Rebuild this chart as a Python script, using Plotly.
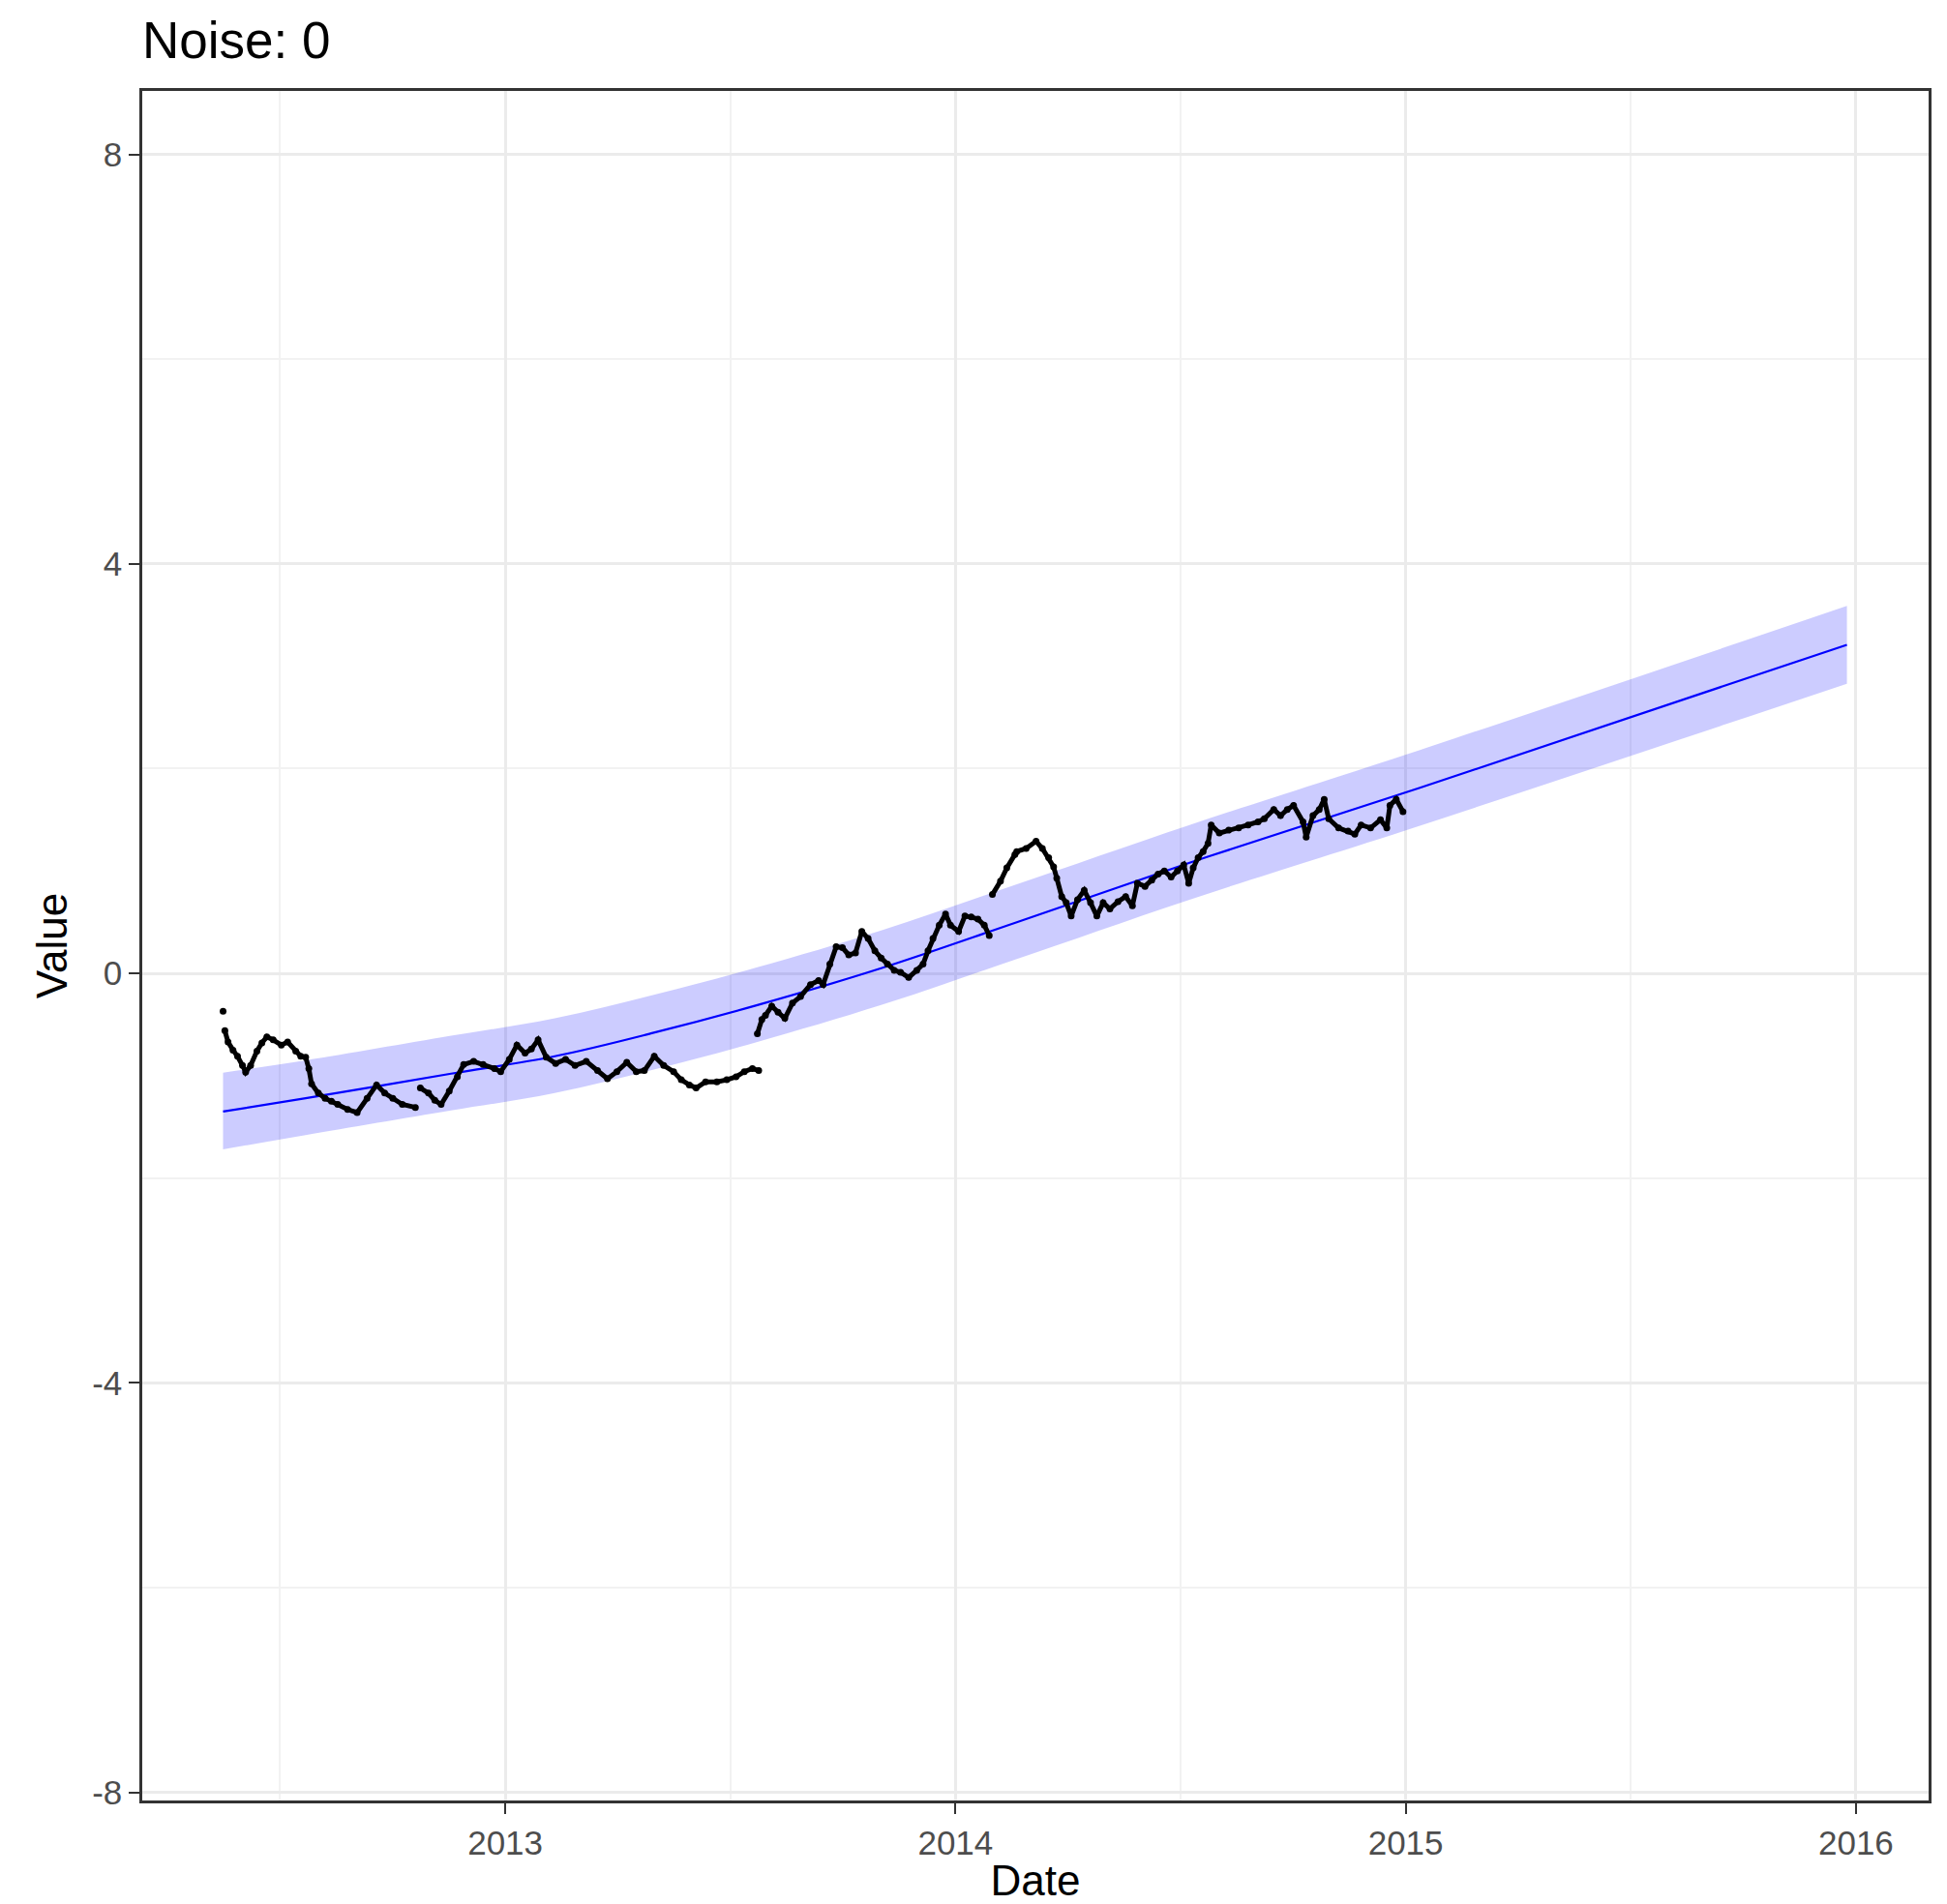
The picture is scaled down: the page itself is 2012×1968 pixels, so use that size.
import pandas as pd
import plotly.graph_objects as go

# ---------------- data (decimal years) ----------------
obs1_t = [2012.375, None,
          2012.379, 2012.386, 2012.397, 2012.407, 2012.418, 2012.425, 2012.436, 2012.450,
          2012.461, 2012.472, 2012.486, 2012.504, 2012.518, 2012.536, 2012.547, 2012.558,
          2012.565, 2012.571, 2012.586, 2012.601, 2012.615, 2012.629, 2012.651, 2012.672,
          2012.694, 2012.715, 2012.733, 2012.751, 2012.772, 2012.801, None,
          2012.812, 2012.830, 2012.844, 2012.858, 2012.876, 2012.894, 2012.908, 2012.930,
          2012.951, 2012.976, 2012.990, 2013.009, 2013.026, 2013.044, 2013.058, 2013.073,
          2013.091, 2013.112, 2013.134, 2013.155, 2013.180, 2013.205, 2013.227, 2013.248,
          2013.270, 2013.291, 2013.309, 2013.331, 2013.352, 2013.374, 2013.391, 2013.409,
          2013.424, 2013.445, 2013.470, 2013.492, 2013.513, 2013.531, 2013.549, 2013.563]
obs1_v = [-0.37, None,
          -0.56, -0.67, -0.75, -0.81, -0.90, -0.965, -0.90, -0.76,
          -0.68, -0.62, -0.65, -0.70, -0.67, -0.76, -0.81, -0.82,
          -0.93, -1.08, -1.17, -1.22, -1.25, -1.28, -1.33, -1.36,
          -1.22, -1.09, -1.17, -1.22, -1.28, -1.31, None,
          -1.12, -1.17, -1.24, -1.28, -1.15, -1.01, -0.89, -0.86,
          -0.89, -0.93, -0.96, -0.84, -0.70, -0.78, -0.74, -0.65,
          -0.82, -0.88, -0.84, -0.90, -0.86, -0.95, -1.03, -0.96,
          -0.87, -0.96, -0.95, -0.81, -0.90, -0.96, -1.04, -1.09,
          -1.12, -1.06, -1.06, -1.04, -1.01, -0.96, -0.93, -0.95]

obs2_t = [2013.560, 2013.570, 2013.578, 2013.592, 2013.606, 2013.621, 2013.638, 2013.656,
          2013.678, 2013.696, 2013.706, 2013.721, 2013.735, 2013.749, 2013.763, 2013.778,
          2013.792, 2013.806, 2013.821, 2013.835, 2013.849, 2013.864, 2013.878, 2013.896,
          2013.914, 2013.928, 2013.939, 2013.950, 2013.964, 2013.978, 2013.989, 2014.007,
          2014.021, 2014.035, 2014.050, 2014.064, 2014.075, None,
          2014.082, 2014.100, 2014.114, 2014.132, 2014.136, 2014.157, 2014.179, 2014.193,
          2014.207, 2014.218, 2014.225, 2014.236, 2014.246, 2014.257, 2014.271, 2014.286,
          2014.300, 2014.314, 2014.328, 2014.343, 2014.361, 2014.378, 2014.393, 2014.404,
          2014.421, 2014.436, 2014.450, 2014.464, 2014.479, 2014.493, 2014.507, 2014.518,
          2014.528, 2014.539, 2014.550, 2014.561, 2014.568, 2014.586, 2014.607, 2014.629,
          2014.650, 2014.672, 2014.686, 2014.707, 2014.722, 2014.737, 2014.751, 2014.772,
          2014.779, 2014.794, 2014.808, 2014.819, 2014.829, 2014.851, 2014.872, 2014.887,
          2014.901, 2014.922, 2014.944, 2014.958, 2014.965, 2014.979, 2014.994]
obs2_v = [-0.59, -0.45, -0.41, -0.32, -0.38, -0.44, -0.29, -0.225,
          -0.11, -0.07, -0.11, 0.09, 0.26, 0.25, 0.18, 0.20,
          0.41, 0.34, 0.22, 0.15, 0.09, 0.03, 0.01, -0.04,
          0.03, 0.09, 0.22, 0.34, 0.47, 0.58, 0.47, 0.41,
          0.56, 0.55, 0.53, 0.47, 0.37, None,
          0.77, 0.90, 1.03, 1.16, 1.19, 1.22, 1.29, 1.22,
          1.13, 1.04, 0.93, 0.75, 0.69, 0.56, 0.72, 0.81,
          0.69, 0.56, 0.69, 0.63, 0.70, 0.75, 0.66, 0.88,
          0.85, 0.91, 0.97, 1.00, 0.94, 1.00, 1.06, 0.88,
          1.03, 1.13, 1.19, 1.27, 1.45, 1.37, 1.40, 1.42,
          1.45, 1.48, 1.51, 1.60, 1.54, 1.60, 1.64, 1.48,
          1.33, 1.54, 1.60, 1.70, 1.51, 1.42, 1.39, 1.36,
          1.45, 1.42, 1.50, 1.42, 1.64, 1.70, 1.58]

fc_t = [2012.375, 2012.558, 2012.88, 2013.11, 2013.33, 2013.56, 2013.835,
        2014.13, 2014.52, 2015.03, 2015.98]
fc_v = [-1.35, -1.22, -0.98, -0.81, -0.58, -0.31, 0.05, 0.49, 1.08, 1.81, 3.21]
fc_hi = [-0.97, -0.85, -0.61, -0.44, -0.21, 0.06, 0.42, 0.86, 1.45, 2.18, 3.59]
fc_lo = [-1.72, -1.58, -1.34, -1.17, -0.94, -0.67, -0.31, 0.13, 0.72, 1.44, 2.83]

x_tick_years = [2013, 2014, 2015, 2016]
x_minor_years = [2012.5, 2013.5, 2014.5, 2015.5]
y_ticks = [-8, -4, 0, 4, 8]
y_minor = [-6, -2, 2, 6]
x_range_years = [2012.196, 2016.161]
y_range = [-8.08, 8.62]


def to_date(d):
    if d is None:
        return None
    y = int(d)
    start = pd.Timestamp(year=y, month=1, day=1)
    end = pd.Timestamp(year=y + 1, month=1, day=1)
    return start + (end - start) * (d - y)


def dates(lst):
    return [to_date(d) for d in lst]


fig = go.Figure()

fig.add_trace(go.Scatter(x=dates(fc_t), y=fc_lo, mode="lines", line=dict(width=0, shape="spline"),
                         showlegend=False, hoverinfo="skip"))
fig.add_trace(go.Scatter(x=dates(fc_t), y=fc_hi, mode="lines", line=dict(width=0, shape="spline"),
                         fill="tonexty", fillcolor="rgba(0,0,255,0.2)",
                         showlegend=False, hoverinfo="skip"))
fig.add_trace(go.Scatter(x=dates(fc_t), y=fc_v, mode="lines",
                         line=dict(color="#0000FF", width=2.2, shape="spline"),
                         showlegend=False))

for tt, vv in [(obs1_t, obs1_v), (obs2_t, obs2_v)]:
    fig.add_trace(go.Scatter(x=dates(tt), y=vv, mode="lines+markers",
                             line=dict(color="black", width=5),
                             marker=dict(color="black", size=7),
                             connectgaps=False, showlegend=False))

axis_font = dict(family="Liberation Sans, Arial, sans-serif", size=35, color="#4D4D4D")
title_font = dict(family="Liberation Sans, Arial, sans-serif", size=44, color="black")

fig.update_layout(
    width=2012, height=1968,
    margin=dict(l=147, r=19, t=94, b=107, autoexpand=False),
    paper_bgcolor="white", plot_bgcolor="white",
    title=dict(text="Noise: 0", x=0, xref="paper", xanchor="left",
               y=1 - 41 / 1968, yref="container", yanchor="middle",
               font=dict(family="Liberation Sans, Arial, sans-serif", size=53, color="black")),
    showlegend=False,
)

fig.update_xaxes(
    type="date",
    range=[to_date(x_range_years[0]), to_date(x_range_years[1])],
    tickmode="array",
    tickvals=[to_date(y) for y in x_tick_years],
    ticktext=[str(y) for y in x_tick_years],
    ticks="outside", ticklen=11, tickwidth=2, tickcolor="#333333",
    tickfont=axis_font,
    showgrid=True, gridcolor="#EBEBEB", gridwidth=2.5,
    minor=dict(tickmode="array", tickvals=[to_date(y) for y in x_minor_years],
               showgrid=True, gridcolor="#F2F2F2", gridwidth=1.5, ticks=""),
    showline=True, linecolor="#333333", linewidth=2.5, mirror=True,
    zeroline=False,
    title=dict(text="Date", font=title_font, standoff=17),
)

fig.update_yaxes(
    range=y_range,
    tickmode="array",
    tickvals=y_ticks,
    ticktext=[str(v) for v in y_ticks],
    ticks="outside", ticklen=11, tickwidth=2, tickcolor="#333333",
    tickfont=axis_font,
    showgrid=True, gridcolor="#EBEBEB", gridwidth=2.5,
    minor=dict(tickmode="array", tickvals=y_minor,
               showgrid=True, gridcolor="#F2F2F2", gridwidth=1.5, ticks=""),
    showline=True, linecolor="#333333", linewidth=2.5, mirror=True,
    zeroline=False,
    title=dict(text="Value", font=title_font, standoff=12),
)

fig.write_html("out.html")
